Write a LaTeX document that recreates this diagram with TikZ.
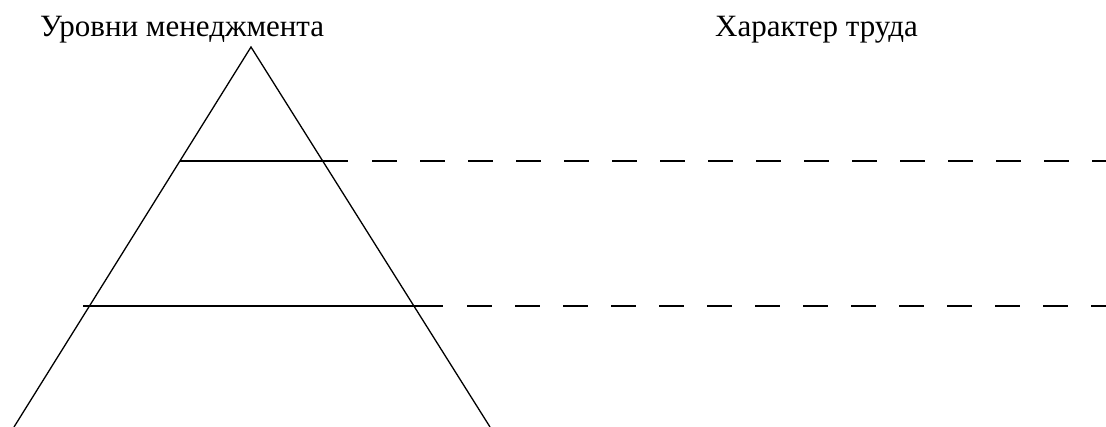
\documentclass[tikz,border=0pt]{standalone}
\usepackage{fontspec}
\setmainfont{Liberation Serif}
\usetikzlibrary{positioning}

\begin{document}
\begin{tikzpicture}[
    x=1pt, y=-1pt,
    title/.style={anchor=base west, inner sep=0pt, font=\fontsize{31}{36}\selectfont},
    solidline/.style={line width=1.3pt},
    dashline/.style={line width=1.3pt, dash pattern=on 25pt off 23pt},
]
    \useasboundingbox (0,0) rectangle (1106,427);

    % Headings
    \node[title] (levels) at (40,37) {Уровни менеджмента};
    \node[title] (work) at (715,37) {Характер труда};

    % Pyramid corners
    \coordinate (apex) at (251,47);
    \coordinate (baseL) at (14,427);
    \coordinate (baseR) at (490,427);

    % Level lines
    \coordinate (upL) at (180,161);
    \coordinate (upR) at (348,161);
    \coordinate (upD) at (372,161);
    \coordinate (upE) at (1106,161);
    \coordinate (lowL) at (83,306);
    \coordinate (lowR) at (443,306);
    \coordinate (lowD) at (467,306);
    \coordinate (lowE) at (1106,306);

    % Pyramid
    \draw[solidline] (baseL) -- (apex) -- (baseR);

    % Levels
    \draw[solidline] (upL) -- (upR);
    \draw[dashline] (upD) -- (upE);
    \draw[solidline] (lowL) -- (lowR);
    \draw[dashline] (lowD) -- (lowE);
\end{tikzpicture}
\end{document}
